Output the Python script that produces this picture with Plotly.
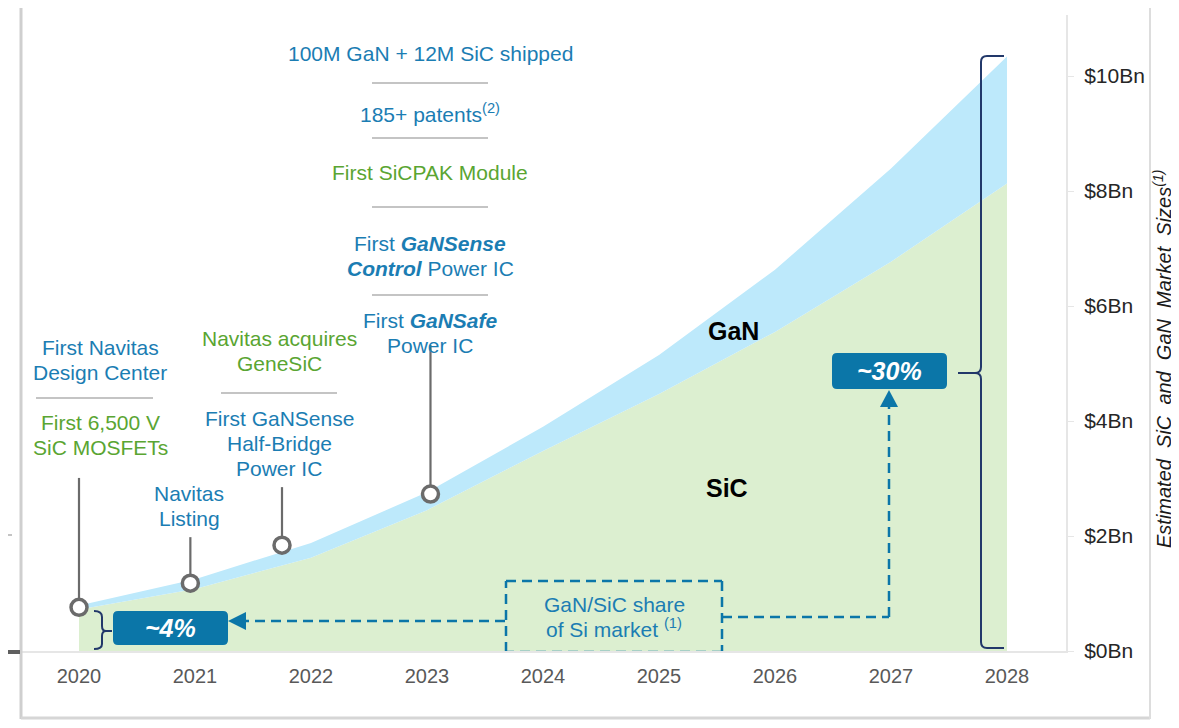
import plotly.graph_objects as go

# ---------------- data ----------------
years = [2020, 2021, 2022, 2023, 2024, 2025, 2026, 2027, 2028]
sic_bn = [0.72, 1.08, 1.62, 2.45, 3.48, 4.47, 5.55, 6.77, 8.13]
gan_bn = [0.07, 0.17, 0.26, 0.31, 0.42, 0.68, 1.08, 1.62, 2.21]
ytick_vals = [0, 2, 4, 6, 8, 10]
ytick_text = ["$0Bn", "$2Bn", "$4Bn", "$6Bn", "$8Bn", "$10Bn"]

# milestone markers (year position, market value, stem top value)
event_x = [2020.0, 2020.96, 2021.75, 2023.03]
event_y = [0.76, 1.18, 1.84, 2.73]
event_stem_top = [3.01, 1.98, 2.85, 5.32]

# ---------------- geometry helpers ----------------
# page body has an 8px margin; reference pixel coords are window coords
OFF = 8
W, H = 1179 - OFF, 728 - 2 * OFF
PL, PT, PR, PB = 20, 15, 1066, 651          # plot area in window px
L, T = PL - OFF, PT - OFF
PW, PH = PR - PL, PB - PT
R, B = W - L - PW, H - T - PH
X0, X1 = 2020 - (79 - PL) / 116, 2020 + (PR - 79) / 116
Y1 = (PB - PT) / 57.5


def X(px):
    return X0 + (px - PL) / PW * (X1 - X0)


def Y(py):
    return Y1 - (py - PT) / PH * Y1


def PX(px):
    return (px - PL) / PW


def PY(py):
    return (PB - py) / PH


BLUE = "#1b7db3"
GREEN = "#5aa532"
BOX = "#0b76a8"
NAVY = "#22386a"
GRAYLINE = "#c4c4c4"
STEM = "#6b6b6b"
FONT = "Liberation Sans, Arial, sans-serif"

fig = go.Figure()

fig.add_trace(go.Scatter(x=years, y=sic_bn, stackgroup="one", mode="none",
                         fillcolor="#dcefd0", hoverinfo="skip", name="SiC"))
fig.add_trace(go.Scatter(x=years, y=gan_bn, stackgroup="one", mode="none",
                         fillcolor="#bde9fb", hoverinfo="skip", name="GaN"))

# stems
for ex, ey, et in zip(event_x, event_y, event_stem_top):
    fig.add_trace(go.Scatter(x=[ex, ex], y=[ey, et], mode="lines",
                             line=dict(color=STEM, width=2.2), hoverinfo="skip"))
fig.add_trace(go.Scatter(x=event_x, y=event_y, mode="markers",
                         marker=dict(size=16, color="white", symbol="circle",
                                     line=dict(color=STEM, width=3.5)),
                         hoverinfo="skip"))

shapes = []
annotations = []


def text(px, py, s, color, size=21):
    annotations.append(dict(x=X(px), y=Y(py), xref="x", yref="y", text=s,
                            showarrow=False, xanchor="center", yanchor="middle",
                            font=dict(family=FONT, size=size, color=color)))


def lines(px, ys, strs, color, size=21):
    for py, s in zip(ys, strs):
        text(px, py, s, color, size)


def sep(x0, x1, py):
    shapes.append(dict(type="line", xref="x", yref="y", x0=X(x0), x1=X(x1),
                       y0=Y(py), y1=Y(py), line=dict(color=GRAYLINE, width=2)))


def dline(x0, y0, x1, y1):
    shapes.append(dict(type="line", xref="x", yref="y", x0=X(x0), x1=X(x1),
                       y0=Y(y0), y1=Y(y1),
                       line=dict(color=BOX, width=2.5, dash="10px,6px")))


def path(pts_cmds, color, width=2, fill=None):
    out = []
    for cmd in pts_cmds:
        if isinstance(cmd, str):
            out.append(cmd)
        else:
            out.append(f"{X(cmd[0]):.5f},{Y(cmd[1]):.5f}")
    d = dict(type="path", xref="x", yref="y", path=" ".join(out),
             line=dict(color=color, width=width))
    if fill:
        d["fillcolor"] = fill
    return d


def rbox(x0, y0, x1, y1, r=5):
    cmds = ["M", (x0 + r, y0), "L", (x1 - r, y0), "Q", (x1, y0), (x1, y0 + r),
            "L", (x1, y1 - r), "Q", (x1, y1), (x1 - r, y1), "L", (x0 + r, y1),
            "Q", (x0, y1), (x0, y1 - r), "L", (x0, y0 + r), "Q", (x0, y0), (x0 + r, y0), "Z"]
    shapes.append(path(cmds, BOX, width=0, fill=BOX))


# milestone texts
lines(100, [347, 372], ["First Navitas", "Design Center"], BLUE)
sep(36, 153, 398)
lines(100, [422, 447], ["First 6,500 V", "SiC MOSFETs"], GREEN)
lines(279, [338, 363], ["Navitas acquires", "GeneSiC"], GREEN)
sep(221, 337, 393)
lines(279, [418, 443, 468], ["First GaNSense", "Half-Bridge", "Power IC"], BLUE)
lines(189, [493, 518], ["Navitas", "Listing"], BLUE)

text(430, 53, "100M GaN + 12M SiC shipped", BLUE)
sep(372, 488, 83)
text(430, 113, "185+ patents<sup>(2)</sup>", BLUE)
sep(372, 488, 138)
text(430, 172, "First SiCPAK Module", GREEN)
sep(372, 488, 207)
lines(430, [243, 268], ["First <b><i>GaNSense</i></b>", "<b><i>Control</i></b> Power IC"], BLUE)
sep(372, 488, 295)
lines(430, [320, 345], ["First <b><i>GaNSafe</i></b>", "Power IC"], BLUE)

# series labels
text(733, 331, "<b>GaN</b>", "black", size=25)
text(727, 488, "<b>SiC</b>", "black", size=25)

# share boxes
rbox(113, 611, 228, 645)
text(170, 628, "<b><i>~4%</i></b>", "white", size=25)
rbox(832, 353, 947, 389)
text(889, 371, "<b><i>~30%</i></b>", "white", size=25)

# dashed box and connectors
dline(506, 581, 722, 581)
dline(722, 581, 722, 652)
dline(722, 652, 506, 652)
dline(506, 652, 506, 581)
lines(614, [604, 628], ["GaN/SiC share", "of Si market <sup>(1)</sup>"], BLUE, size=21)
dline(505, 621, 246, 621)
dline(722, 617, 889, 617)
dline(889, 617, 889, 405)
shapes.append(path(["M", (228, 621), "L", (246, 612), "L", (246, 630), "Z"], BOX, width=0, fill=BOX))
shapes.append(path(["M", (889, 390), "L", (880, 407), "L", (898, 407), "Z"], BOX, width=0, fill=BOX))

# braces
shapes.append(path(["M", (1004, 56), "L", (987, 56), "Q", (981, 56), (981, 62),
                    "L", (981, 367), "Q", (981, 373), (975, 373), "L", (958, 373),
                    "M", (975, 373), "Q", (981, 373), (981, 379),
                    "L", (981, 642), "Q", (981, 648), (987, 648), "L", (1004, 648)], NAVY, width=2))
shapes.append(path(["M", (94, 611), "Q", (102, 611), (102, 617), "L", (102, 626),
                    "Q", (102, 631), (106, 631), "L", (112, 631),
                    "M", (106, 631), "Q", (102, 631), (102, 636), "L", (102, 644),
                    "Q", (102, 649), (94, 649)], NAVY, width=2))

# panel edges / fragments
for x0, y0, x1, y1, c, w in [
    (21, 8, 21, 719, "#cfcfcf", 3),
    (21, 718, 1150, 718, "#d6d6d6", 3),
    (1150, 8, 1150, 719, "#dddddd", 2),
    (8, 652, 20, 652, "#5f5f5f", 4),
    (8, 535, 12, 535, "#c4c4c4", 2),
]:
    shapes.append(dict(type="line", xref="paper", yref="paper", x0=PX(x0), x1=PX(x1),
                       y0=PY(y0), y1=PY(y1), line=dict(color=c, width=w)))

# y-axis title on the right
annotations.append(dict(x=PX(1162), y=PY(359), xref="paper", yref="paper",
                        text="<i>Estimated  SiC  and  GaN  Market  Sizes<sup>(1)</sup></i>",
                        textangle=-90, showarrow=False, xanchor="center", yanchor="middle",
                        font=dict(family=FONT, size=20, color="#1a1a1a")))

fig.update_layout(
    width=W, height=H,
    margin=dict(l=L, r=R, t=T, b=B, pad=0),
    paper_bgcolor="white", plot_bgcolor="white",
    showlegend=False,
    shapes=shapes, annotations=annotations,
    xaxis=dict(range=[X0, X1], tickvals=years, ticktext=[str(y) for y in years],
               showgrid=False, zeroline=False, showline=True, linecolor="#e6e6e6",
               linewidth=2, ticks="", tickfont=dict(family=FONT, size=20, color="#595959"),
               ticklabelstandoff=6),
    yaxis=dict(range=[0, Y1], side="right", tickvals=ytick_vals, ticktext=ytick_text,
               showgrid=False, zeroline=False, showline=True, linecolor="#e6e6e6",
               linewidth=2, ticks="outside", ticklen=6, tickcolor="#e6e6e6",
               tickfont=dict(family=FONT, size=21, color="#262626"),
               ticklabelstandoff=6),
)

fig.write_html("out.html")
